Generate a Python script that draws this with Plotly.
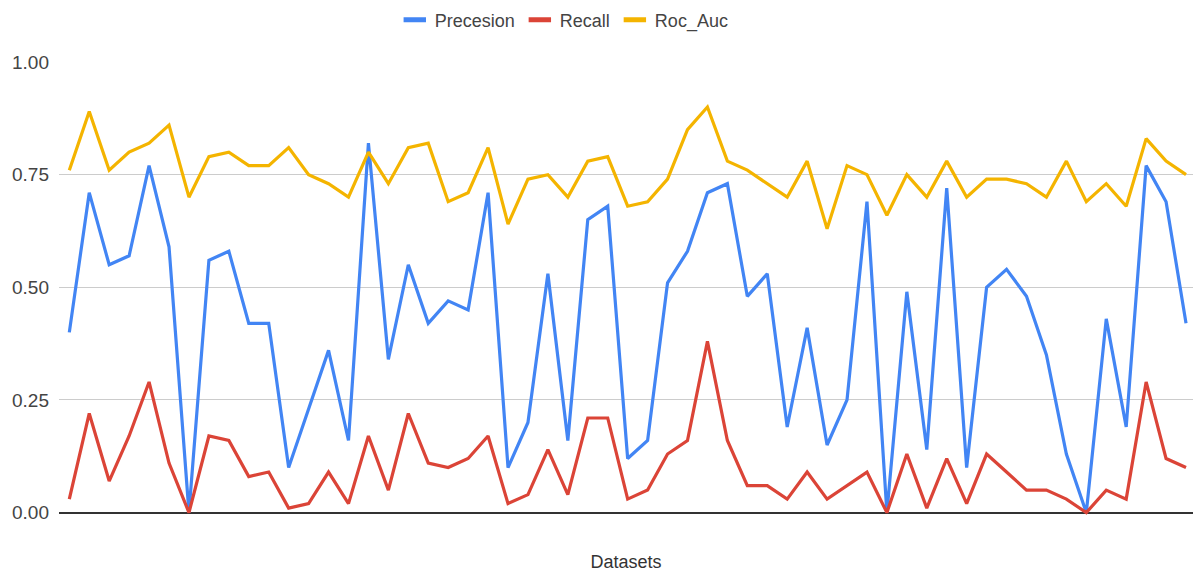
import plotly.graph_objects as go

# Dataset labels (57 datasets along the x axis)
datasets = [f"Dataset {i}" for i in range(1, 58)]

precision = [
    0.40, 0.71, 0.55, 0.57, 0.77, 0.59, 0.00, 0.56, 0.58, 0.42,
    0.42, 0.10, 0.23, 0.36, 0.16, 0.82, 0.34, 0.55, 0.42, 0.47,
    0.45, 0.71, 0.10, 0.20, 0.53, 0.16, 0.65, 0.68, 0.12, 0.16,
    0.51, 0.58, 0.71, 0.73, 0.48, 0.53, 0.19, 0.41, 0.15, 0.25,
    0.69, 0.00, 0.49, 0.14, 0.72, 0.10, 0.50, 0.54, 0.48, 0.35,
    0.13, 0.00, 0.43, 0.19, 0.77, 0.69, 0.42,
]

recall = [
    0.03, 0.22, 0.07, 0.17, 0.29, 0.11, 0.00, 0.17, 0.16, 0.08,
    0.09, 0.01, 0.02, 0.09, 0.02, 0.17, 0.05, 0.22, 0.11, 0.10,
    0.12, 0.17, 0.02, 0.04, 0.14, 0.04, 0.21, 0.21, 0.03, 0.05,
    0.13, 0.16, 0.38, 0.16, 0.06, 0.06, 0.03, 0.09, 0.03, 0.06,
    0.09, 0.00, 0.13, 0.01, 0.12, 0.02, 0.13, 0.09, 0.05, 0.05,
    0.03, 0.00, 0.05, 0.03, 0.29, 0.12, 0.10,
]

roc_auc = [
    0.76, 0.89, 0.76, 0.80, 0.82, 0.86, 0.70, 0.79, 0.80, 0.77,
    0.77, 0.81, 0.75, 0.73, 0.70, 0.80, 0.73, 0.81, 0.82, 0.69,
    0.71, 0.81, 0.64, 0.74, 0.75, 0.70, 0.78, 0.79, 0.68, 0.69,
    0.74, 0.85, 0.90, 0.78, 0.76, 0.73, 0.70, 0.78, 0.63, 0.77,
    0.75, 0.66, 0.75, 0.70, 0.78, 0.70, 0.74, 0.74, 0.73, 0.70,
    0.78, 0.69, 0.73, 0.68, 0.83, 0.78, 0.75,
]

series = [
    ("Precesion", precision, "#4285F4"),
    ("Recall", recall, "#DB4437"),
    ("Roc_Auc", roc_auc, "#F4B400"),
]

FONT = "Arial, Liberation Sans, sans-serif"

fig = go.Figure()
for name, values, color in series:
    # the data line itself
    fig.add_trace(go.Scatter(
        x=datasets, y=values, name=name, mode="lines",
        line=dict(color=color, width=3.2), showlegend=False,
    ))
    # short, thick legend swatch
    fig.add_trace(go.Scatter(
        x=[None], y=[None], name=name, mode="markers",
        marker=dict(symbol="line-ew", size=18,
                    line=dict(color=color, width=6)),
        showlegend=True,
    ))

fig.update_layout(
    width=1193, height=573,
    margin=dict(l=59, r=0, t=62, b=58),
    paper_bgcolor="white", plot_bgcolor="white",
    font=dict(family=FONT, color="#444444"),
    showlegend=True,
    legend=dict(
        orientation="h", xref="container", yref="container",
        x=0.473, xanchor="center", y=1 - 20 / 573, yanchor="middle",
        font=dict(size=18, color="#444444"),
        itemwidth=30,
    ),
    hovermode=False,
)

fig.update_xaxes(
    type="category",
    range=[-0.517, 56.35],
    showticklabels=False, showgrid=False, zeroline=False,
    ticks="",
    title=dict(text="Datasets", font=dict(size=18, color="#333333"), standoff=40),
)

fig.update_yaxes(
    range=[-0.0053, 1.0],
    tickvals=[0, 0.25, 0.5, 0.75, 1.0],
    tickformat=".2f",
    tickfont=dict(size=19, color="#444444"),
    ticklabelstandoff=9,
    showgrid=True, gridcolor="#cccccc", gridwidth=1,
    zeroline=True, zerolinecolor="#333333", zerolinewidth=1.5,
    showline=False,
)

fig.write_html("out.html")
